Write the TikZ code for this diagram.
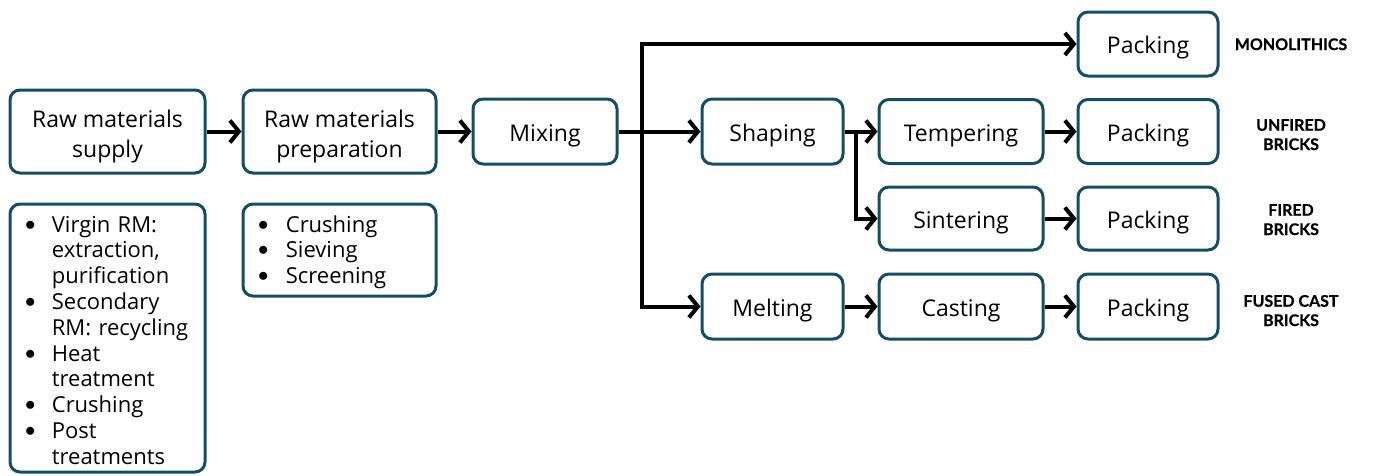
\documentclass[tikz,border=0pt]{standalone}
\usepackage{fontspec}
\setmainfont{Open Sans}
\newfontfamily\labfont{Lato}[BoldFeatures={FakeBold=0.6}]
\usetikzlibrary{arrows.meta,calc}
\definecolor{boxline}{RGB}{20,78,100}
\newcommand{\itemdot}{\raisebox{2pt}{$\bullet$}}

\begin{document}
\begin{tikzpicture}[x=1pt,y=-1pt,
  frame/.style={draw=boxline, line width=3pt, rounded corners=10pt, inner sep=0pt},
  box/.style={frame, minimum width=#1, align=center,
    font=\fontsize{23pt}{30.5pt}\selectfont, text height=23pt, text depth=4pt},
  box/.default=141pt,
  twoline/.style={text height=56pt, text depth=4pt},
  listbox/.style={frame, minimum width=#1, text width=#1-30pt, inner xsep=15pt,
    align=left, font=\fontsize{22pt}{25.8pt}\selectfont, text height=28pt},
  lab/.style={align=center, inner sep=0pt,
    font=\labfont\bfseries\fontsize{16pt}{19.3pt}\selectfont,
    text height=32pt, text depth=1pt},
  lab1/.style={lab, text height=12.7pt},
  flow/.style={draw=black, line width=4pt,
    -{Straight Barb[length=9pt,width=22pt,line width=4pt]}},
]
\useasboundingbox (0,0) rectangle (1379,475);

% first stage: supply and preparation
\node[box=195pt, twoline, minimum height=83pt] (rms) at (107.5,131.5) {Raw materials\\supply};
\node[box=193pt, twoline, minimum height=83pt] (rmp) at (339.5,131.5) {Raw materials\\preparation};

\node[listbox=195pt, text depth=240pt, anchor=north] (l1) at (107.5,202.5)
  {\begin{tabular}[t]{@{}l@{\hspace{16.5pt}}l@{}}
   \itemdot & Virgin RM:\\
            & extraction,\\
            & purification\\
   \itemdot & Secondary\\
            & RM: recycling\\
   \itemdot & Heat\\
            & treatment\\
   \itemdot & Crushing\\
   \itemdot & Post\\
            & treatments
   \end{tabular}};
\node[listbox=193pt, text depth=64pt, anchor=north] (l2) at (339.5,202.5)
  {\begin{tabular}[t]{@{}l@{\hspace{17.5pt}}l@{}}
   \itemdot & Crushing\\
   \itemdot & Sieving\\
   \itemdot & Screening
   \end{tabular}};

% processing
\node[box=144pt, minimum height=65pt] (mix) at (545,131.5) {Mixing};
\node[box=141pt, minimum height=65pt] (shp) at (772.5,131.5) {Shaping};
\node[box=141pt, minimum height=65pt] (mlt) at (772.5,306.5) {Melting};
\node[box=164pt, minimum height=64pt] (tmp) at (961,131.5) {Tempering};
\node[box=164pt, minimum height=63pt] (snt) at (961,218.5) {Sintering};
\node[box=164pt, minimum height=65pt] (cst) at (961,306.5) {Casting};

% packing
\node[box=140pt, minimum height=64pt] (pk0) at (1148,44) {Packing};
\node[box=140pt, minimum height=64pt] (pk1) at (1148,131.5) {Packing};
\node[box=140pt, minimum height=63pt] (pk2) at (1148,218.5) {Packing};
\node[box=140pt, minimum height=65pt] (pk3) at (1148,306.5) {Packing};

% product families
\node[lab1] (lm) at (1291,44.2) {MONOLITHICS};
\node[lab] (lu) at (1291,134.5) {UNFIRED\\BRICKS};
\node[lab] (lf) at (1291,219.5) {FIRED\\BRICKS};
\node[lab] (lc) at (1291,310.5) {FUSED CAST\\BRICKS};

% connectors
\draw[flow] (rms) -- (rmp);
\draw[flow] (rmp) -- (mix);
\draw[flow] (mix) -- (shp);

\coordinate (trunk) at (642,0);
\coordinate (tbot) at (trunk |- mlt);
\coordinate (ttop) at (trunk |- pk0);
\draw[flow] ([yshift=2pt]tbot) -- (ttop) -- (pk0);
\draw[flow] ([xshift=-2pt]tbot) -- (mlt);

\coordinate (sb) at ($(shp.east)+(11,0)$);
\draw[flow] (shp) -- (tmp);
\draw[flow] (sb) -- (sb |- snt) -- (snt);

\draw[flow] (mlt) -- (cst);
\draw[flow] (tmp) -- (pk1);
\draw[flow] (snt) -- (pk2);
\draw[flow] (cst) -- (pk3);
\end{tikzpicture}
\end{document}
